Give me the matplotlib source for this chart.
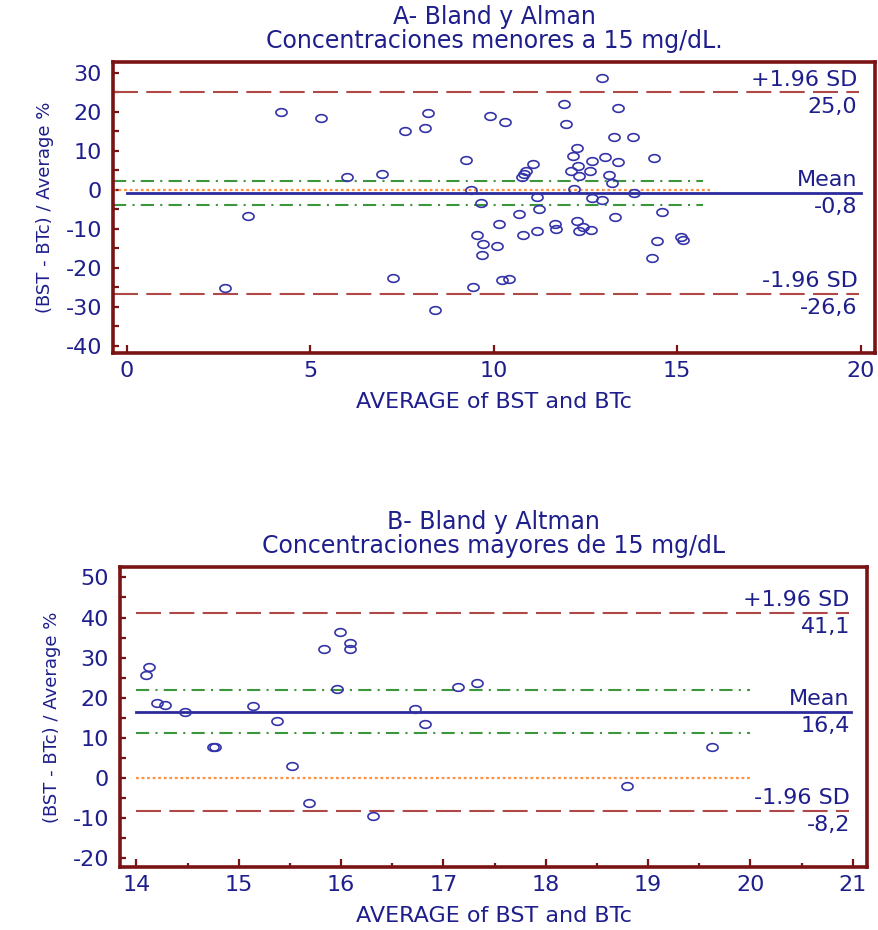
import numpy as np
import matplotlib
matplotlib.use("Agg")
import matplotlib.pyplot as plt
from matplotlib.path import Path
from matplotlib.ticker import MultipleLocator
import matplotlib.transforms as mtransforms

plt.rcParams['font.family'] = ['DejaVu Sans']
plt.rcParams['axes.unicode_minus'] = False
plt.rcParams['lines.scale_dashes'] = False

# ---------------- data ----------------
# Panel A: concentrations < 15 mg/dL
xA = [2.68, 3.30, 4.22, 5.29, 6.01, 6.95, 7.26, 7.58, 8.14, 8.20, 8.40, 9.26, 9.37,
      9.43, 9.56, 9.65, 9.67, 9.72, 9.90, 10.08, 10.14, 10.22, 10.31, 10.43, 10.69,
      10.76, 10.79, 10.83, 10.88, 11.06, 11.19, 11.19, 11.23, 11.67, 11.70, 11.92,
      11.97, 12.10, 12.15, 12.20, 12.26, 12.28, 12.31, 12.33, 12.33, 12.44, 12.64,
      12.62, 12.67, 12.69, 12.94, 12.94, 13.03, 13.13, 13.23, 13.29, 13.32, 13.38,
      13.40, 13.80, 13.83, 14.32, 14.38, 14.44, 14.58, 15.10, 15.15]
yA = [-25.1, -6.7, 20.1, 18.4, 3.4, 4.0, -22.7, 15.1, 15.8, 19.7, -30.8, 7.8, 0.0,
      -25.0, -11.5, -3.3, -16.8, -13.9, 19.0, -14.4, -8.8, -23.1, 17.4, -22.9, -6.2,
      3.3, -11.6, 4.1, 4.9, 6.7, -1.9, -10.4, -5.0, -8.8, -10.0, 22.1,
      16.8, 4.9, 8.7, 0.3, 10.7, -7.9, 6.2, 3.6, -10.5, -9.6, -10.3,
      4.9, -2.1, 7.5, -2.6, 28.6, 8.4, 3.8, 1.9, 13.7, -7.0, 7.2,
      20.9, 13.5, -0.7, -17.4, 8.1, -13.1, -5.6, -12.0, -12.8]
statsA = {"upper": 25.0, "mean": -0.8, "lower": -26.6, "ci_lo": -3.8, "ci_hi": 2.4}
labelsA = ["+1.96 SD", "25,0", "Mean", "-0,8", "-1.96 SD", "-26,6"]

# Panel B: concentrations > 15 mg/dL
xB = [14.09, 14.12, 14.20, 14.28, 14.48, 14.75, 14.77, 15.14, 15.37, 15.52, 15.69,
      15.83, 15.96, 15.99, 16.09, 16.09, 16.31, 16.72, 16.82, 17.14, 17.33, 18.79, 19.63]
yB = [25.6, 27.6, 18.7, 18.1, 16.4, 7.7, 7.8, 17.9, 14.1, 2.9, -6.3,
      32.2, 22.2, 36.5, 33.7, 32.2, -9.5, 17.3, 13.5, 22.8, 23.7, -1.9, 7.7]
statsB = {"upper": 41.1, "mean": 16.4, "lower": -8.2, "ci_lo": 11.1, "ci_hi": 22.0}
labelsB = ["+1.96 SD", "41,1", "Mean", "16,4", "-1.96 SD", "-8,2"]

titleA = "A- Bland y Alman\nConcentraciones menores a 15 mg/dL."
titleB = "B- Bland y Altman\nConcentraciones mayores de 15 mg/dL"
xlabel = "AVERAGE of BST and BTc"
ylabel = "(BST - BTc) / Average %"

# ---------------- style ----------------
NAVY = "#1e1e8c"
FRAME = "#7a1414"
MARK = "#3434a8"
LOA = "#b04848"
GREEN = "#3c963c"
ORANGE = "#ff9040"
MEANC = "#2a2a9c"

t = np.linspace(0, 2 * np.pi, 40)
ell = Path(np.column_stack([1.45 * np.cos(t), np.sin(t)]), closed=True)

W, H = 879, 930
fig = plt.figure(figsize=(W / 100, H / 100), dpi=100)


def make_axes(px_left, px_right, px_top, px_bottom):
    return fig.add_axes([px_left / W, 1 - px_bottom / H,
                         (px_right - px_left) / W, (px_bottom - px_top) / H])


def draw(ax, x, y, st, labels, xlim, ylim, ext, xmaj, xmin_, ymaj, ymin_, title):
    ax.set_xlim(*xlim)
    ax.set_ylim(*ylim)
    (l0, l1), (m0, m1), (c0, c1), (o0, o1) = ext
    # zero line
    ax.plot([o0, o1], [0, 0], color=ORANGE, lw=1.6, dashes=(2, 2), zorder=2)
    # CI of mean
    for v in (st["ci_lo"], st["ci_hi"]):
        ax.plot([c0, c1], [v, v], color=GREEN, lw=1.5,
                dashes=(9.5, 4.5, 1.5, 4.5), zorder=2)
    # limits of agreement
    for v in (st["upper"], st["lower"]):
        ax.plot([l0, l1], [v, v], color=LOA, lw=1.5, dashes=(18, 6), zorder=2)
    # mean
    ax.plot([m0, m1], [st["mean"], st["mean"]], color=MEANC, lw=2.0, zorder=3)
    # points
    ax.plot(x, y, linestyle="none", marker=ell, ms=8, mfc="none",
            mec=MARK, mew=1.2, zorder=4)

    trans = mtransforms.blended_transform_factory(ax.transAxes, ax.transData)
    xr = 0.977
    for (top, bot), v in zip([(labels[0], labels[1]), (labels[2], labels[3]),
                              (labels[4], labels[5])],
                             [st["upper"], st["mean"], st["lower"]]):
        ax.annotate(top, xy=(xr, v), xycoords=trans, xytext=(0, 2),
                    textcoords="offset points", ha="right", va="bottom",
                    color=NAVY, fontsize=16)
        ax.annotate(bot, xy=(xr, v), xycoords=trans, xytext=(0, -3),
                    textcoords="offset points", ha="right", va="top",
                    color=NAVY, fontsize=16)

    for s in ax.spines.values():
        s.set_color(FRAME)
        s.set_linewidth(2.6)
    ax.xaxis.set_major_locator(MultipleLocator(xmaj))
    if xmin_:
        ax.xaxis.set_minor_locator(MultipleLocator(xmin_))
    ax.yaxis.set_major_locator(MultipleLocator(ymaj))
    ax.yaxis.set_minor_locator(MultipleLocator(ymin_))
    ax.tick_params(axis="both", which="both", direction="in", color=FRAME,
                   width=1.6, labelcolor=NAVY, labelsize=16)
    ax.tick_params(axis="x", which="major", length=6, pad=6)
    ax.tick_params(axis="x", which="minor", length=3)
    ax.tick_params(axis="y", which="both", length=4, pad=8)
    ax.tick_params(top=False, right=False, which="both")
    ax.set_xlabel(xlabel, color=NAVY, fontsize=16, labelpad=8)
    ax.set_ylabel(ylabel, color=NAVY, fontsize=13, labelpad=8)
    ax.set_title(title, color=NAVY, fontsize=17, linespacing=1.0, pad=10)


axA = make_axes(113, 875, 62, 353)
draw(axA, xA, yA, statsA, labelsA, (-0.37, 20.39), (-41.8, 32.8),
     [(-0.37, 19.95), (0.0, 20.0), (-0.37, 15.7), (-0.37, 15.9)],
     5, None, 10, 5, titleA)

axB = make_axes(120, 867, 567, 867)
draw(axB, xB, yB, statsB, labelsB, (13.84, 21.14), (-22.2, 52.6),
     [(14.0, 20.96), (14.0, 20.98), (14.0, 20.0), (14.0, 20.0)],
     1, 0.5, 10, 5, titleB)

fig.savefig("out.png", dpi=100, facecolor="white")
